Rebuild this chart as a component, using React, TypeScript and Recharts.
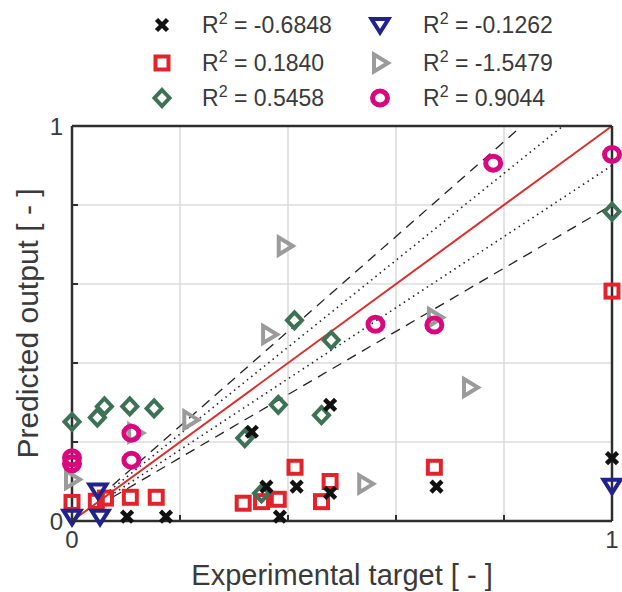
import React from 'react';
import { ComposedChart, Scatter, XAxis, YAxis, CartesianGrid, ReferenceLine, Legend } from 'recharts';

// ---------------- data ----------------
const xTicks = [0, 0.2, 0.4, 0.6, 0.8, 1];
const yTicks = [0, 0.2, 0.4, 0.6, 0.8, 1];
const labeledTicks = [0, 1];
const xAxisTitle = 'Experimental target [ - ]';
const yAxisTitle = 'Predicted output [ - ]';

const r2Labels = ['-0.6848', '0.1840', '0.5458', '-0.1262', '-1.5479', '0.9044'];

const blackCross = [
  { x: 0.102, y: 0.011 }, { x: 0.174, y: 0.011 }, { x: 0.333, y: 0.226 }, { x: 0.36, y: 0.087 },
  { x: 0.385, y: 0.011 }, { x: 0.416, y: 0.087 }, { x: 0.478, y: 0.294 }, { x: 0.478, y: 0.071 },
  { x: 0.675, y: 0.087 }, { x: 1.0, y: 0.159 },
];
const redSquares = [
  { x: 0, y: 0.047 }, { x: 0.045, y: 0.05 }, { x: 0.062, y: 0.058 }, { x: 0.108, y: 0.06 },
  { x: 0.156, y: 0.06 }, { x: 0.317, y: 0.045 }, { x: 0.351, y: 0.049 }, { x: 0.382, y: 0.055 },
  { x: 0.413, y: 0.136 }, { x: 0.462, y: 0.049 }, { x: 0.478, y: 0.1 }, { x: 0.671, y: 0.136 },
  { x: 1.0, y: 0.582 },
];
const greenDiamonds = [
  { x: 0, y: 0.251 }, { x: 0.047, y: 0.262 }, { x: 0.06, y: 0.29 }, { x: 0.107, y: 0.29 },
  { x: 0.152, y: 0.285 }, { x: 0.32, y: 0.21 }, { x: 0.351, y: 0.07 }, { x: 0.382, y: 0.294 },
  { x: 0.412, y: 0.508 }, { x: 0.462, y: 0.268 }, { x: 0.48, y: 0.458 }, { x: 1.0, y: 0.783 },
];
const navyTriangles = [
  { x: 0, y: 0.011 }, { x: 0.048, y: 0.077 }, { x: 0.052, y: 0.011 }, { x: 1.0, y: 0.089 },
];
const grayTriangles = [
  { x: 0, y: 0.105 }, { x: 0.117, y: 0.223 }, { x: 0.219, y: 0.256 }, { x: 0.365, y: 0.472 },
  { x: 0.394, y: 0.696 }, { x: 0.543, y: 0.094 }, { x: 0.672, y: 0.515 }, { x: 0.737, y: 0.338 },
];
const magentaCircles = [
  { x: 0, y: 0.16 }, { x: 0, y: 0.145 }, { x: 0.11, y: 0.222 }, { x: 0.11, y: 0.154 },
  { x: 0.562, y: 0.498 }, { x: 0.671, y: 0.496 }, { x: 0.78, y: 0.906 }, { x: 1.0, y: 0.928 },
];

// guide lines (endpoints)
const identityLine = [{ x: 0, y: 0 }, { x: 1, y: 1 }];
const upperDashed = [{ x: 0.075, y: 0.09 }, { x: 0.833, y: 1 }];
const upperDotted = [{ x: 0.07, y: 0.077 }, { x: 0.909, y: 1 }];
const lowerDotted = [{ x: 0.07, y: 0.063 }, { x: 1, y: 0.9 }];
const lowerDashed = [{ x: 0.075, y: 0.06 }, { x: 1, y: 0.8 }];

// ---------------- styles ----------------
const FONT = '"Liberation Sans", Arial, Helvetica, sans-serif';
const AXIS = '#2e2e2e';
const TEXT = '#3a3a3a';
const C_BLACK = '#111111';
const C_RED = '#e3232c';
const C_GREEN = '#3d7256';
const C_NAVY = '#22228c';
const C_GRAY = '#9b9b9b';
const C_MAGENTA = '#d8087f';

// ---------------- marker shapes ----------------
const CrossMark = ({ cx, cy }: any) => (
  <path d={`M${cx - 5.5},${cy - 5.5}L${cx + 5.5},${cy + 5.5}M${cx - 5.5},${cy + 5.5}L${cx + 5.5},${cy - 5.5}`}
    stroke={C_BLACK} strokeWidth={4.5} fill="none" />
);
const SquareMark = ({ cx, cy }: any) => (
  <rect x={cx - 6.5} y={cy - 6.5} width={13} height={13} stroke={C_RED} strokeWidth={4} fill="none" />
);
const DiamondMark = ({ cx, cy }: any) => (
  <path d={`M${cx},${cy - 8}L${cx + 7.5},${cy}L${cx},${cy + 8}L${cx - 7.5},${cy}Z`}
    stroke={C_GREEN} strokeWidth={4} fill="none" />
);
const TriDownMark = ({ cx, cy }: any) => (
  <path d={`M${cx - 8.5},${cy - 6}L${cx + 8.5},${cy - 6}L${cx},${cy + 7.5}Z`}
    stroke={C_NAVY} strokeWidth={4} fill="none" strokeLinejoin="miter" />
);
const TriRightMark = ({ cx, cy }: any) => (
  <path d={`M${cx - 6},${cy - 8.5}L${cx + 8},${cy}L${cx - 6},${cy + 8.5}Z`}
    stroke={C_GRAY} strokeWidth={4} fill="none" />
);
const CircleMark = ({ cx, cy }: any) => (
  <ellipse cx={cx} cy={cy} rx={7.5} ry={7} stroke={C_MAGENTA} strokeWidth={5} fill="none" />
);

const legendItems = [
  { shape: CrossMark, label: r2Labels[0] },
  { shape: SquareMark, label: r2Labels[1] },
  { shape: DiamondMark, label: r2Labels[2] },
  { shape: TriDownMark, label: r2Labels[3] },
  { shape: TriRightMark, label: r2Labels[4] },
  { shape: CircleMark, label: r2Labels[5] },
];

const LegendContent = () => {
  const colMarkX = [162, 380];
  const colTextX = [202, 423];
  const rowY = [25, 63, 98];
  return (
    <svg width={622} height={120} style={{ display: 'block' }}>
      {legendItems.map((it, i) => {
        const col = Math.floor(i / 3);
        const row = i % 3;
        const Shape = it.shape;
        const cy = rowY[row];
        return (
          <g key={i}>
            <Shape cx={colMarkX[col]} cy={cy} />
            <text x={colTextX[col]} y={cy + 8} fontFamily={FONT} fontSize={23} fill={TEXT}>
              R<tspan dy={-9} fontSize={16}>2</tspan>
              <tspan dy={9}>{' = ' + it.label}</tspan>
            </text>
          </g>
        );
      })}
    </svg>
  );
};

// ---------------- ticks ----------------
const BottomTick = (props: any) => {
  const { x, y, payload } = props;
  return (
    <g>
      <line x1={x} y1={y} x2={x} y2={y - 6} stroke={AXIS} strokeWidth={2} />
      {labeledTicks.includes(payload.value) && (
        <text x={x} y={y + 27} textAnchor="middle" fontFamily={FONT} fontSize={24} fill={TEXT}>
          {String(payload.value)}
        </text>
      )}
    </g>
  );
};
const TopTick = (props: any) => {
  const { x, y } = props;
  return <line x1={x} y1={y} x2={x} y2={y + 6} stroke={AXIS} strokeWidth={2} />;
};
const LeftTick = (props: any) => {
  const { x, y, payload } = props;
  return (
    <g>
      <line x1={x} y1={y} x2={x + 6} y2={y} stroke={AXIS} strokeWidth={2} />
      {labeledTicks.includes(payload.value) && (
        <text x={x - 9} y={y + 8.5} textAnchor="end" fontFamily={FONT} fontSize={24} fill={TEXT}>
          {String(payload.value)}
        </text>
      )}
    </g>
  );
};
const RightTick = (props: any) => {
  const { x, y } = props;
  return <line x1={x} y1={y} x2={x - 6} y2={y} stroke={AXIS} strokeWidth={2} />;
};

const XTitle = (props: any) => {
  const vb = props.viewBox || { x: 72, y: 521, width: 540, height: 71 };
  return (
    <text x={vb.x + vb.width / 2} y={585} textAnchor="middle" fontFamily={FONT} fontSize={29} fill={TEXT}>
      {xAxisTitle}
    </text>
  );
};
const YTitle = (props: any) => {
  const vb = props.viewBox || { x: 0, y: 126, width: 72, height: 395 };
  const cy = vb.y + vb.height / 2;
  return (
    <text x={38} y={cy} transform={`rotate(-90, 38, ${cy})`} textAnchor="middle"
      fontFamily={FONT} fontSize={30} fill={TEXT}>
      {yAxisTitle}
    </text>
  );
};

const axisLineStyle = { stroke: AXIS, strokeWidth: 2.5 };

export default function App() {
  return (
    <div style={{ position: 'absolute', left: 0, top: 0, width: 622, height: 592, background: '#fff' }}>
      <ComposedChart width={622} height={592} margin={{ top: 0, right: 0, bottom: 0, left: 0 }}>
        <CartesianGrid stroke="#dcdcdc" strokeWidth={1.6} />
        <XAxis xAxisId={0} type="number" dataKey="x" domain={[0, 1]} ticks={xTicks} height={71}
          tickSize={0} tickMargin={0} tickLine={false} axisLine={axisLineStyle}
          tick={<BottomTick />} label={<XTitle />} interval={0} />
        <XAxis xAxisId="top" orientation="top" type="number" domain={[0, 1]} ticks={xTicks} height={126}
          tickSize={0} tickMargin={0} tickLine={false} axisLine={axisLineStyle} tick={<TopTick />} interval={0} />
        <YAxis yAxisId={0} type="number" dataKey="y" domain={[0, 1]} ticks={yTicks} width={72}
          tickSize={0} tickMargin={0} tickLine={false} axisLine={axisLineStyle}
          tick={<LeftTick />} label={<YTitle />} interval={0} />
        <YAxis yAxisId="right" orientation="right" type="number" domain={[0, 1]} ticks={yTicks} width={10}
          tickSize={0} tickMargin={0} tickLine={false} axisLine={axisLineStyle} tick={<RightTick />} interval={0} />

        <ReferenceLine segment={upperDashed} stroke="#222" strokeWidth={1.3} strokeDasharray="10 7" />
        <ReferenceLine segment={lowerDashed} stroke="#222" strokeWidth={1.3} strokeDasharray="10 7" />
        <ReferenceLine segment={upperDotted} stroke="#222" strokeWidth={1.6} strokeDasharray="1.5 4" />
        <ReferenceLine segment={lowerDotted} stroke="#222" strokeWidth={1.6} strokeDasharray="1.5 4" />
        <ReferenceLine segment={identityLine} stroke="#db2f2f" strokeWidth={2} />

        <Scatter name="sq" data={redSquares} shape={(p: any) => <SquareMark {...p} />} isAnimationActive={false} />
        <Scatter name="dia" data={greenDiamonds} shape={(p: any) => <DiamondMark {...p} />} isAnimationActive={false} />
        <Scatter name="tri-r" data={grayTriangles} shape={(p: any) => <TriRightMark {...p} />} isAnimationActive={false} />
        <Scatter name="tri-d" data={navyTriangles} shape={(p: any) => <TriDownMark {...p} />} isAnimationActive={false} />
        <Scatter name="circ" data={magentaCircles} shape={(p: any) => <CircleMark {...p} />} isAnimationActive={false} />
        <Scatter name="cross" data={blackCross} shape={(p: any) => <CrossMark {...p} />} isAnimationActive={false} />

        <Legend layout="vertical" align="center" verticalAlign="middle" content={<LegendContent />}
          wrapperStyle={{ position: 'absolute', top: 0, left: 0, width: 622, height: 120 }} />
      </ComposedChart>
    </div>
  );
}
